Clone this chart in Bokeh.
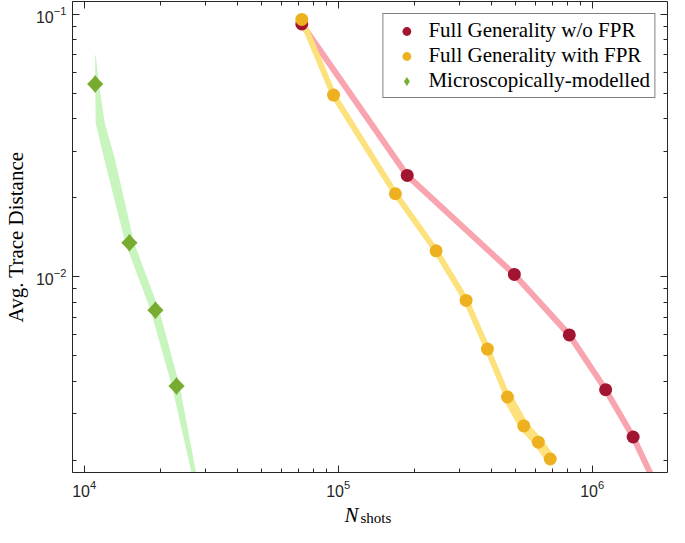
import numpy as np
from bokeh.plotting import figure
from bokeh.layouts import column
from bokeh.models import Range1d, FixedTicker, LogAxis, CustomJSTickFormatter, Label
from bokeh.embed import file_html
from bokeh.resources import INLINE

# ---- data ----
wo_fpr_n = [71900, 187000, 494000, 813000, 1130000, 1450000]
wo_fpr_d = [0.0918, 0.0243, 0.0102, 0.0060, 0.00371, 0.00245]
wo_fpr_fit_n = [71900, 187000, 494000, 813000, 1130000, 1450000, 1760000]
wo_fpr_fit_d = [0.0918, 0.0243, 0.0102, 0.0060, 0.00371, 0.00245, 0.00165]

with_fpr_n = [71900, 95900, 168000, 243000, 319000, 387000, 464000, 538000, 614000, 684000]
with_fpr_d = [0.0955, 0.0492, 0.0207, 0.01254, 0.00812, 0.0053, 0.00348, 0.0027, 0.00234, 0.00202]

micro_n = [11050, 15070, 19080, 23100]
micro_d = [0.0542, 0.01346, 0.00745, 0.00383]

micro_band_d = [0.0699, 0.0540, 0.0384, 0.0284, 0.01347, 0.00745, 0.00382, 0.00175]
micro_band_lo = [11050, 11050, 11100, 11960, 14520, 18250, 22160, 26600]
micro_band_hi = [11100, 11440, 12060, 13180, 15720, 19760, 23780, 27700]

x_major = [1e4, 1e5, 1e6]
y_major = [1e-3, 1e-2, 1e-1]

RED = "#a2142f"
PINK = "#f9a5b0"
YEL = "#edb120"
YEL_LINE = "#fde17d"
GREEN = "#77ac30"
GREEN_BAND = "#c8f5be"
SERIF = "Liberation Serif"
SANS = "Liberation Sans"

x_minor = [k * 10.0 ** e for e in range(3, 7) for k in range(2, 10)]
y_minor = [k * 10.0 ** e for e in range(-3, 0) for k in range(2, 10)]

W = 668
p = figure(width=W, height=503, x_axis_type="log", y_axis_type="log",
           x_range=Range1d(8995, 1.98e6), y_range=Range1d(0.001794, 0.1118),
           output_backend="svg", toolbar_location=None,
           min_border_left=70, min_border_right=1, min_border_top=1, min_border_bottom=31)
p.background_fill_color = "white"
p.border_fill_color = "white"
p.outline_line_color = None
p.xgrid.visible = False
p.ygrid.visible = False

# green band
band_xs = micro_band_lo + micro_band_hi[::-1]
band_ys = micro_band_d + micro_band_d[::-1]
p.patch(band_xs, band_ys, fill_color=GREEN_BAND, line_color=None)

# lines
p.line(wo_fpr_fit_n, wo_fpr_fit_d, line_color=PINK, line_width=6)
p.line(with_fpr_n, with_fpr_d, line_color=YEL_LINE, line_width=6)
p.line(with_fpr_n[6:], with_fpr_d[6:], line_color=YEL_LINE, line_width=10, line_cap="round")

# markers
p.scatter(wo_fpr_n, wo_fpr_d, marker="circle", size=13, fill_color=RED, line_color=None,
          legend_label="Full Generality w/o FPR")
p.scatter(with_fpr_n, with_fpr_d, marker="circle", size=13, fill_color=YEL, line_color=None,
          legend_label="Full Generality with FPR")
p.scatter(micro_n, micro_d, marker="diamond", size=18, fill_color=GREEN, line_color=None,
          legend_label="Microscopically-modelled")
p.scatter(micro_n, micro_d, marker="square", angle=np.pi / 4, size=11.5, fill_color=GREEN,
          line_color=None)

def style_axis(ax, ticks, minor):
    ax.ticker = FixedTicker(ticks=ticks, minor_ticks=minor)
    ax.major_tick_in = 7
    ax.major_tick_out = 0
    ax.minor_tick_in = 4
    ax.minor_tick_out = 0
    ax.axis_line_color = "#262626"
    ax.major_tick_line_color = "#262626"
    ax.minor_tick_line_color = "#262626"
    ax.major_label_text_font = SANS
    ax.major_label_text_font_size = "16px"
    ax.major_label_text_color = "#262626"

style_axis(p.xaxis[0], x_major, x_minor)
style_axis(p.yaxis[0], y_major, y_minor)
p.xaxis[0].major_label_standoff = 7
p.xaxis[0].axis_label = None
p.yaxis[0].major_label_standoff = 6
p.yaxis[0].axis_label = "Avg. Trace Distance"
p.yaxis[0].axis_label_text_font = SERIF
p.yaxis[0].axis_label_text_font_size = "21px"
p.yaxis[0].axis_label_text_font_style = "normal"
p.yaxis[0].axis_label_text_color = "black"
p.yaxis[0].axis_label_standoff = 5

blank = CustomJSTickFormatter(code="return ''")
top = LogAxis(formatter=blank)
right = LogAxis(formatter=blank)
for ax, t, m in ((top, x_major, x_minor), (right, y_major, y_minor)):
    style_axis(ax, t, m)
    ax.major_label_text_font_size = "0px"
    ax.major_label_standoff = 0
    ax.axis_label = None
    ax.axis_label_standoff = 0
p.add_layout(top, "above")
p.add_layout(right, "right")

lg = p.legend[0]
lg.location = "top_right"
lg.margin = 12
lg.border_line_color = "black"
lg.border_line_width = 1
lg.background_fill_alpha = 1
lg.label_text_font = SERIF
lg.label_text_font_size = "21px"
lg.label_text_color = "black"
lg.glyph_width = 38
lg.glyph_height = 22
lg.label_height = 22
lg.label_standoff = 3
lg.spacing = 0
lg.padding = 4

# strip below holding the x-axis label N_shots
q = figure(width=W, height=23, x_range=Range1d(0, 1), y_range=Range1d(0, 23),
           output_backend="svg", toolbar_location=None,
           x_axis_location=None, y_axis_location=None, min_border=0)
q.outline_line_color = None
q.background_fill_color = "white"
q.border_fill_color = "white"
q.xgrid.visible = False
q.ygrid.visible = False
q.add_layout(Label(x=272, y=12, x_units="screen", text="N", text_font=SERIF,
                   text_font_size="21px", text_font_style="italic", text_color="black",
                   text_baseline="middle"))
q.add_layout(Label(x=288, y=8.5, x_units="screen", text="shots", text_font=SERIF,
                   text_font_size="15px", text_color="black", text_baseline="middle"))

layout = column(p, q, spacing=0)
open("out.html", "w").write(file_html(layout, INLINE))
